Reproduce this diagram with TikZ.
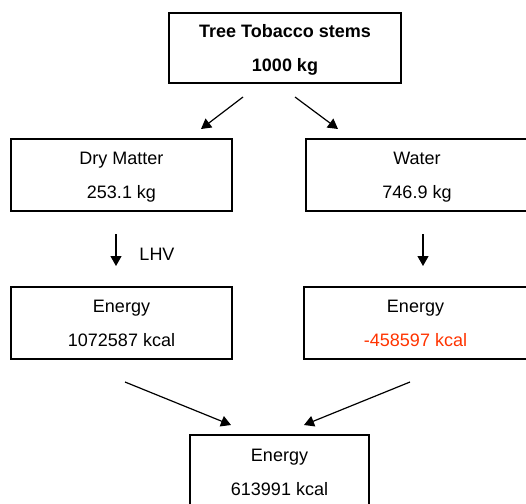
\documentclass[tikz,border=0pt]{standalone}
\usepackage{fontspec}
\setmainfont{Liberation Sans}
\usetikzlibrary{arrows.meta}
\definecolor{negred}{RGB}{255,51,0}
\newcommand{\twoline}[2]{\rule{0pt}{17pt}#1\\#2\rule[-4pt]{0pt}{4pt}}
\tikzset{
  box/.style={draw=black, line width=1.3pt, rectangle, inner sep=0pt, align=center,
    font=\fontsize{18pt}{34pt}\selectfont},
  flow/.style={line width=1.2pt, -{Triangle[length=10pt,width=11pt]}}
}
\begin{document}
\begin{tikzpicture}[x=1pt,y=-1pt]
\useasboundingbox (0,0) rectangle (526,503);
\node[box, minimum width=232pt, minimum height=70pt] (top) at (285,48) {\twoline{\textbf{Tree Tobacco stems}}{\textbf{1000 kg}}};
\node[box, minimum width=221pt, minimum height=72pt] (dm) at (121.5,175) {\twoline{Dry Matter}{253.1 kg}};
\node[box, minimum width=222pt, minimum height=72pt] (wat) at (417,175) {\twoline{Water}{746.9 kg}};
\node[box, minimum width=221pt, minimum height=72pt] (edm) at (121.5,323) {\twoline{Energy}{1072587 kcal}};
\node[box, minimum width=223pt, minimum height=72pt] (ew) at (415.5,323) {\twoline{Energy}{\textcolor{negred}{-458597 kcal}}};
\node[box, minimum width=179pt, minimum height=74pt] (etot) at (279.5,472) {\twoline{Energy}{613991 kcal}};
\node[font=\fontsize{18pt}{22pt}\selectfont] (lhv) at (157,254) {LHV};
\coordinate (a1s) at (243,97);  \coordinate (a1e) at (201,129);
\coordinate (a2s) at (295,97);  \coordinate (a2e) at (338,129);
\coordinate (a3s) at (116,234); \coordinate (a3e) at (116,266);
\coordinate (a4s) at (423,234); \coordinate (a4e) at (423,266);
\coordinate (a5s) at (125,382); \coordinate (a5e) at (231,425);
\coordinate (a6s) at (410,382); \coordinate (a6e) at (304,425);
\draw[flow] (a1s) -- (a1e);
\draw[flow] (a2s) -- (a2e);
\draw[flow] (a3s) -- (a3e);
\draw[flow] (a4s) -- (a4e);
\draw[flow] (a5s) -- (a5e);
\draw[flow] (a6s) -- (a6e);
\end{tikzpicture}
\end{document}
